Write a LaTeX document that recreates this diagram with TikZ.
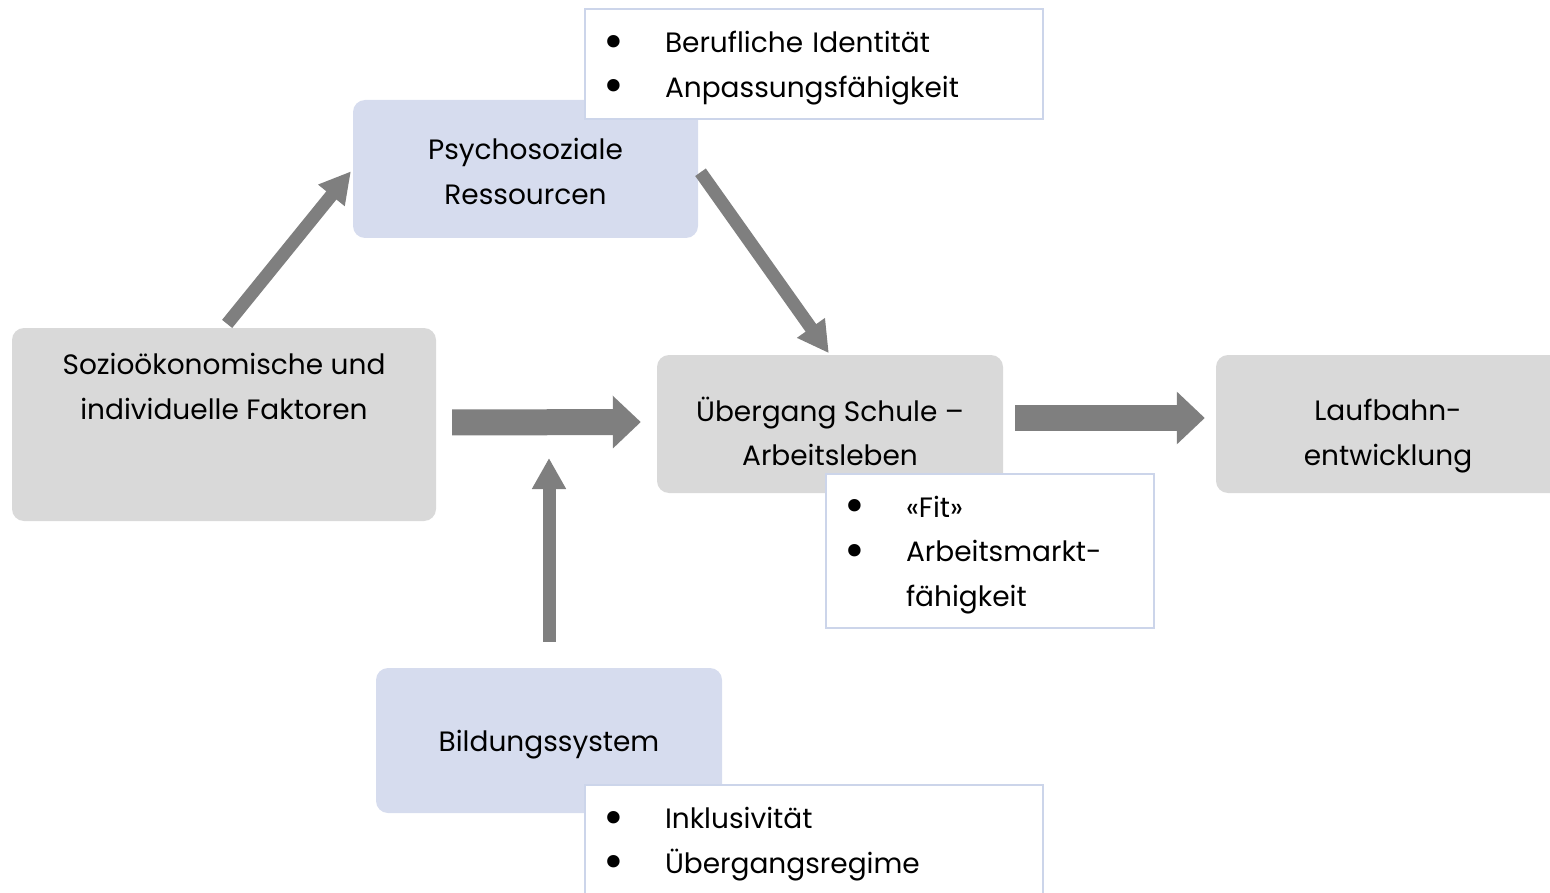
\documentclass[tikz,border=0pt]{standalone}
\usepackage{fontspec}
\usepackage{graphicx}
\setmainfont{Poppins}
\usetikzlibrary{arrows.meta}
\definecolor{boxgray}{HTML}{D9D9D9}
\definecolor{boxblue}{HTML}{D6DCEE}
\definecolor{arrowgray}{HTML}{7F7F7F}
\definecolor{listborder}{HTML}{CCD5EA}
\newcommand{\bigbul}{\hspace*{-4pt}\smash{\raisebox{-0.2em}{\scalebox{1.8}{\textbullet}}}}
\newcommand{\bul}[1]{\makebox[58pt][l]{\bigbul}#1}
\newcommand{\ind}[1]{\makebox[58pt][l]{}#1}
\begin{document}
\begin{tikzpicture}[x=1pt,y=-1pt,
  every node/.style={font=\fontsize{28}{44.5}\selectfont, text=black},
  box/.style={rounded corners=12pt, inner sep=0pt},
  graybox/.style={box, fill=boxgray},
  bluebox/.style={box, fill=boxblue},
  label/.style={align=center, inner sep=0pt},
  listbox/.style={draw=listborder, line width=1.5pt, fill=white, align=left, inner xsep=22pt, inner ysep=0pt},
  blockarrow/.style={draw=arrowgray, line width=13pt, -{Triangle[width=32pt,length=31pt]}},
  widearrow/.style={draw=arrowgray, line width=26pt, -{Triangle[width=51pt,length=28pt]}}
]
\useasboundingbox (0,0) rectangle (1550,893);
\clip (0,0) rectangle (1550,893);

% boxes
\node[graybox, minimum width=424pt, minimum height=193pt] (soz) at (224,424.5) {};
\node[label] (soz-t) at (224,386.5) {Sozioökonomische und\\individuelle Faktoren};

\node[bluebox, minimum width=345pt, minimum height=138pt] (psy) at (525.5,169) {};
\node[label] (psy-t) at (525.5,171.5) {Psychosoziale\\Ressourcen};

\node[graybox, minimum width=346pt, minimum height=138pt] (ueb) at (830,424) {};
\node[label] (ueb-t) at (830,431.5) {Übergang Schule –\\Arbeitsleben};

\node[graybox, minimum width=350pt, minimum height=138pt] (lauf) at (1391,424) {};
\node[label] (lauf-t) at (1388,436) {Laufbahn-\\entwicklung};

\node[bluebox, minimum width=346pt, minimum height=145pt] (bild) at (549,740.5) {};
\node[label] (bild-t) at (549,745) {Bildungssystem};

% lists
\node[listbox, text width=414pt, minimum height=110pt] (l1) at (814,64) {};
\node[listbox, draw=none, fill=none, text width=414pt] (l1-t) at (814,68)
  {\bul{Berufliche Identität}\\\bul{Anpassungsfähigkeit}};
\node[listbox, text width=284pt, minimum height=154pt] (l2) at (990,551) {};
\node[listbox, draw=none, fill=none, text width=284pt] (l2-t) at (990,555)
  {\bul{«Fit»}\\\bul{Arbeitsmarkt-}\\\ind{fähigkeit}};
\node[listbox, text width=414pt, minimum height=112pt] (l3) at (814,841) {};
\node[listbox, draw=none, fill=none, text width=414pt] (l3-t) at (814,844)
  {\bul{Inklusivität}\\\bul{Übergangsregime}};

% arrows
\coordinate (join) at (549,458);
\draw[blockarrow, shorten <=5pt, shorten >=3pt] (soz.north) -- (psy.west);
\draw[blockarrow, shorten <=4pt, shorten >=2pt] (psy.east) -- (ueb.north);
\draw[widearrow, shorten <=16pt, shorten >=16pt] ([yshift=2pt]soz.east) -- ([yshift=2pt]ueb.west);
\draw[blockarrow, shorten <=26pt] (bild.north) -- (join);
\draw[widearrow, shorten <=12pt, shorten >=11pt] ([yshift=6pt]ueb.east) -- ([yshift=6pt]lauf.west);
\end{tikzpicture}
\end{document}
